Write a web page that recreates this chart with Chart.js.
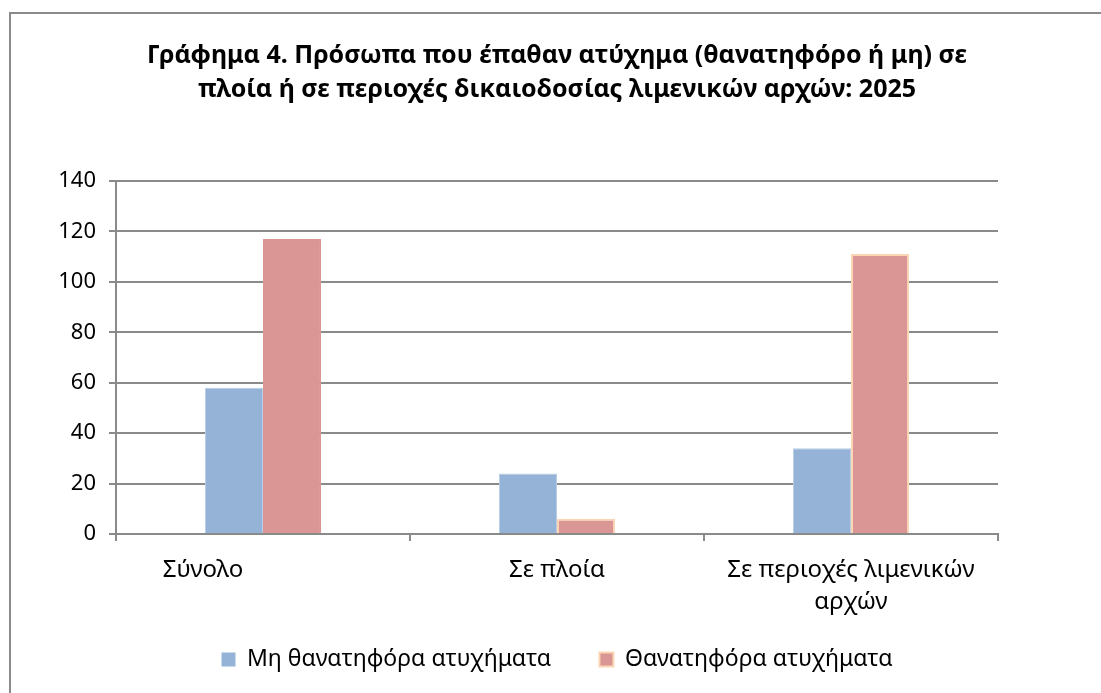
<!DOCTYPE html>
<html>
<head>
<meta charset="utf-8">
<script src="https://cdn.jsdelivr.net/npm/chart.js@4.4.0/dist/chart.umd.min.js"></script>
<style>
    html, body { margin: 0; padding: 0; background: #fff; overflow: hidden; }
    #frame {
        position: absolute; left: 9px; top: 12px;
        width: 1200px; height: 800px;
        border-left: 2px solid #8a8a8a; border-top: 2px solid #8a8a8a;
    }
    #wrap { position: absolute; left: 0; top: 0; width: 1101px; height: 693px; }
</style>
</head>
<body>
<div id="frame"></div>
<div id="wrap"><canvas id="chart" width="1101" height="693"></canvas></div>
<script>
// Data
const categories = ['Σύνολο', 'Σε πλοία', ['Σε περιοχές λιμενικών', 'αρχών']];
const nonFatal = [58, 24, 34];
const fatal = [117, 6, 111];
const seriesNames = ['Μη θανατηφόρα ατυχήματα', 'Θανατηφόρα ατυχήματα'];
const titleLines = [
    'Γράφημα 4. Πρόσωπα που έπαθαν ατύχημα (θανατηφόρο ή μη) σε',
    'πλοία ή σε περιοχές δικαιοδοσίας λιμενικών αρχών: 2025'
];

const FONT = "'Noto Sans', 'DejaVu Sans', sans-serif";
const GRID = '#8a8a8a';
const RED_EDGE = '#fcd5b4';

const ctx = document.getElementById('chart').getContext('2d');
new Chart(ctx, {
    type: 'bar',
    data: {
        labels: categories,
        datasets: [{
            label: seriesNames[0],
            data: nonFatal,
            backgroundColor: '#95b3d7',
            borderColor: '#b9cde5',
            borderWidth: 1
        }, {
            label: seriesNames[1],
            data: fatal,
            backgroundColor: '#d99694',
            borderColor: ['#d99694', RED_EDGE, RED_EDGE],
            borderWidth: 2
        }]
    },
    options: {
        responsive: false,
        animation: false,
        devicePixelRatio: 1,
        layout: { padding: { left: 0, right: 103, top: 33, bottom: 12 } },
        datasets: {
            bar: { categoryPercentage: 0.395, barPercentage: 1 }
        },
        plugins: {
            title: {
                display: true,
                fullSize: false,
                text: titleLines,
                color: '#000',
                font: { family: FONT, size: 25, weight: 'bold', lineHeight: 1.36 },
                padding: { top: 6, bottom: 74 }
            },
            legend: {
                position: 'bottom',
                fullSize: false,
                labels: {
                    color: '#000',
                    font: { family: FONT, size: 23 },
                    boxWidth: 14,
                    boxHeight: 14,
                    padding: 10,
                    // wider gap between the two entries, like the original
                    generateLabels: (chart) => {
                        const items = Chart.defaults.plugins.legend.labels.generateLabels(chart);
                        items.forEach((it, i) => {
                            if (i === 0) {
                                it.lineWidth = 0;
                                it.text = it.text + '\u2003\u2002\u2009';
                            } else {
                                it.strokeStyle = RED_EDGE;
                                it.lineWidth = 2;
                            }
                        });
                        return items;
                    }
                }
            },
            tooltip: { enabled: false }
        },
        scales: {
            x: {
                afterFit: (scale) => { scale.height = 104; },
                grid: {
                    offset: true,
                    drawOnChartArea: false,
                    drawTicks: true,
                    tickLength: 7,
                    color: GRID,
                    lineWidth: 2
                },
                border: { color: GRID, width: 2 },
                ticks: {
                    color: '#000',
                    font: { family: FONT, size: 24, lineHeight: 1.3 },
                    maxRotation: 0,
                    autoSkip: false,
                    padding: 14,
                    // first label sits left of its group in the original
                    callback: function (value, index) {
                        const lbl = this.getLabelForValue(value);
                        return index === 0 ? lbl + '\u2003\u2003\u2003\u2003\u2003' : categories[index];
                    }
                }
            },
            y: {
                min: 0,
                max: 140,
                afterFit: (scale) => { scale.width = 116; },
                grid: {
                    color: GRID,
                    lineWidth: 2,
                    tickLength: 7
                },
                border: { color: GRID, width: 2 },
                ticks: {
                    stepSize: 20,
                    color: '#000',
                    font: { family: FONT, size: 22 },
                    padding: 13
                }
            }
        }
    }
});
</script>
</body>
</html>
